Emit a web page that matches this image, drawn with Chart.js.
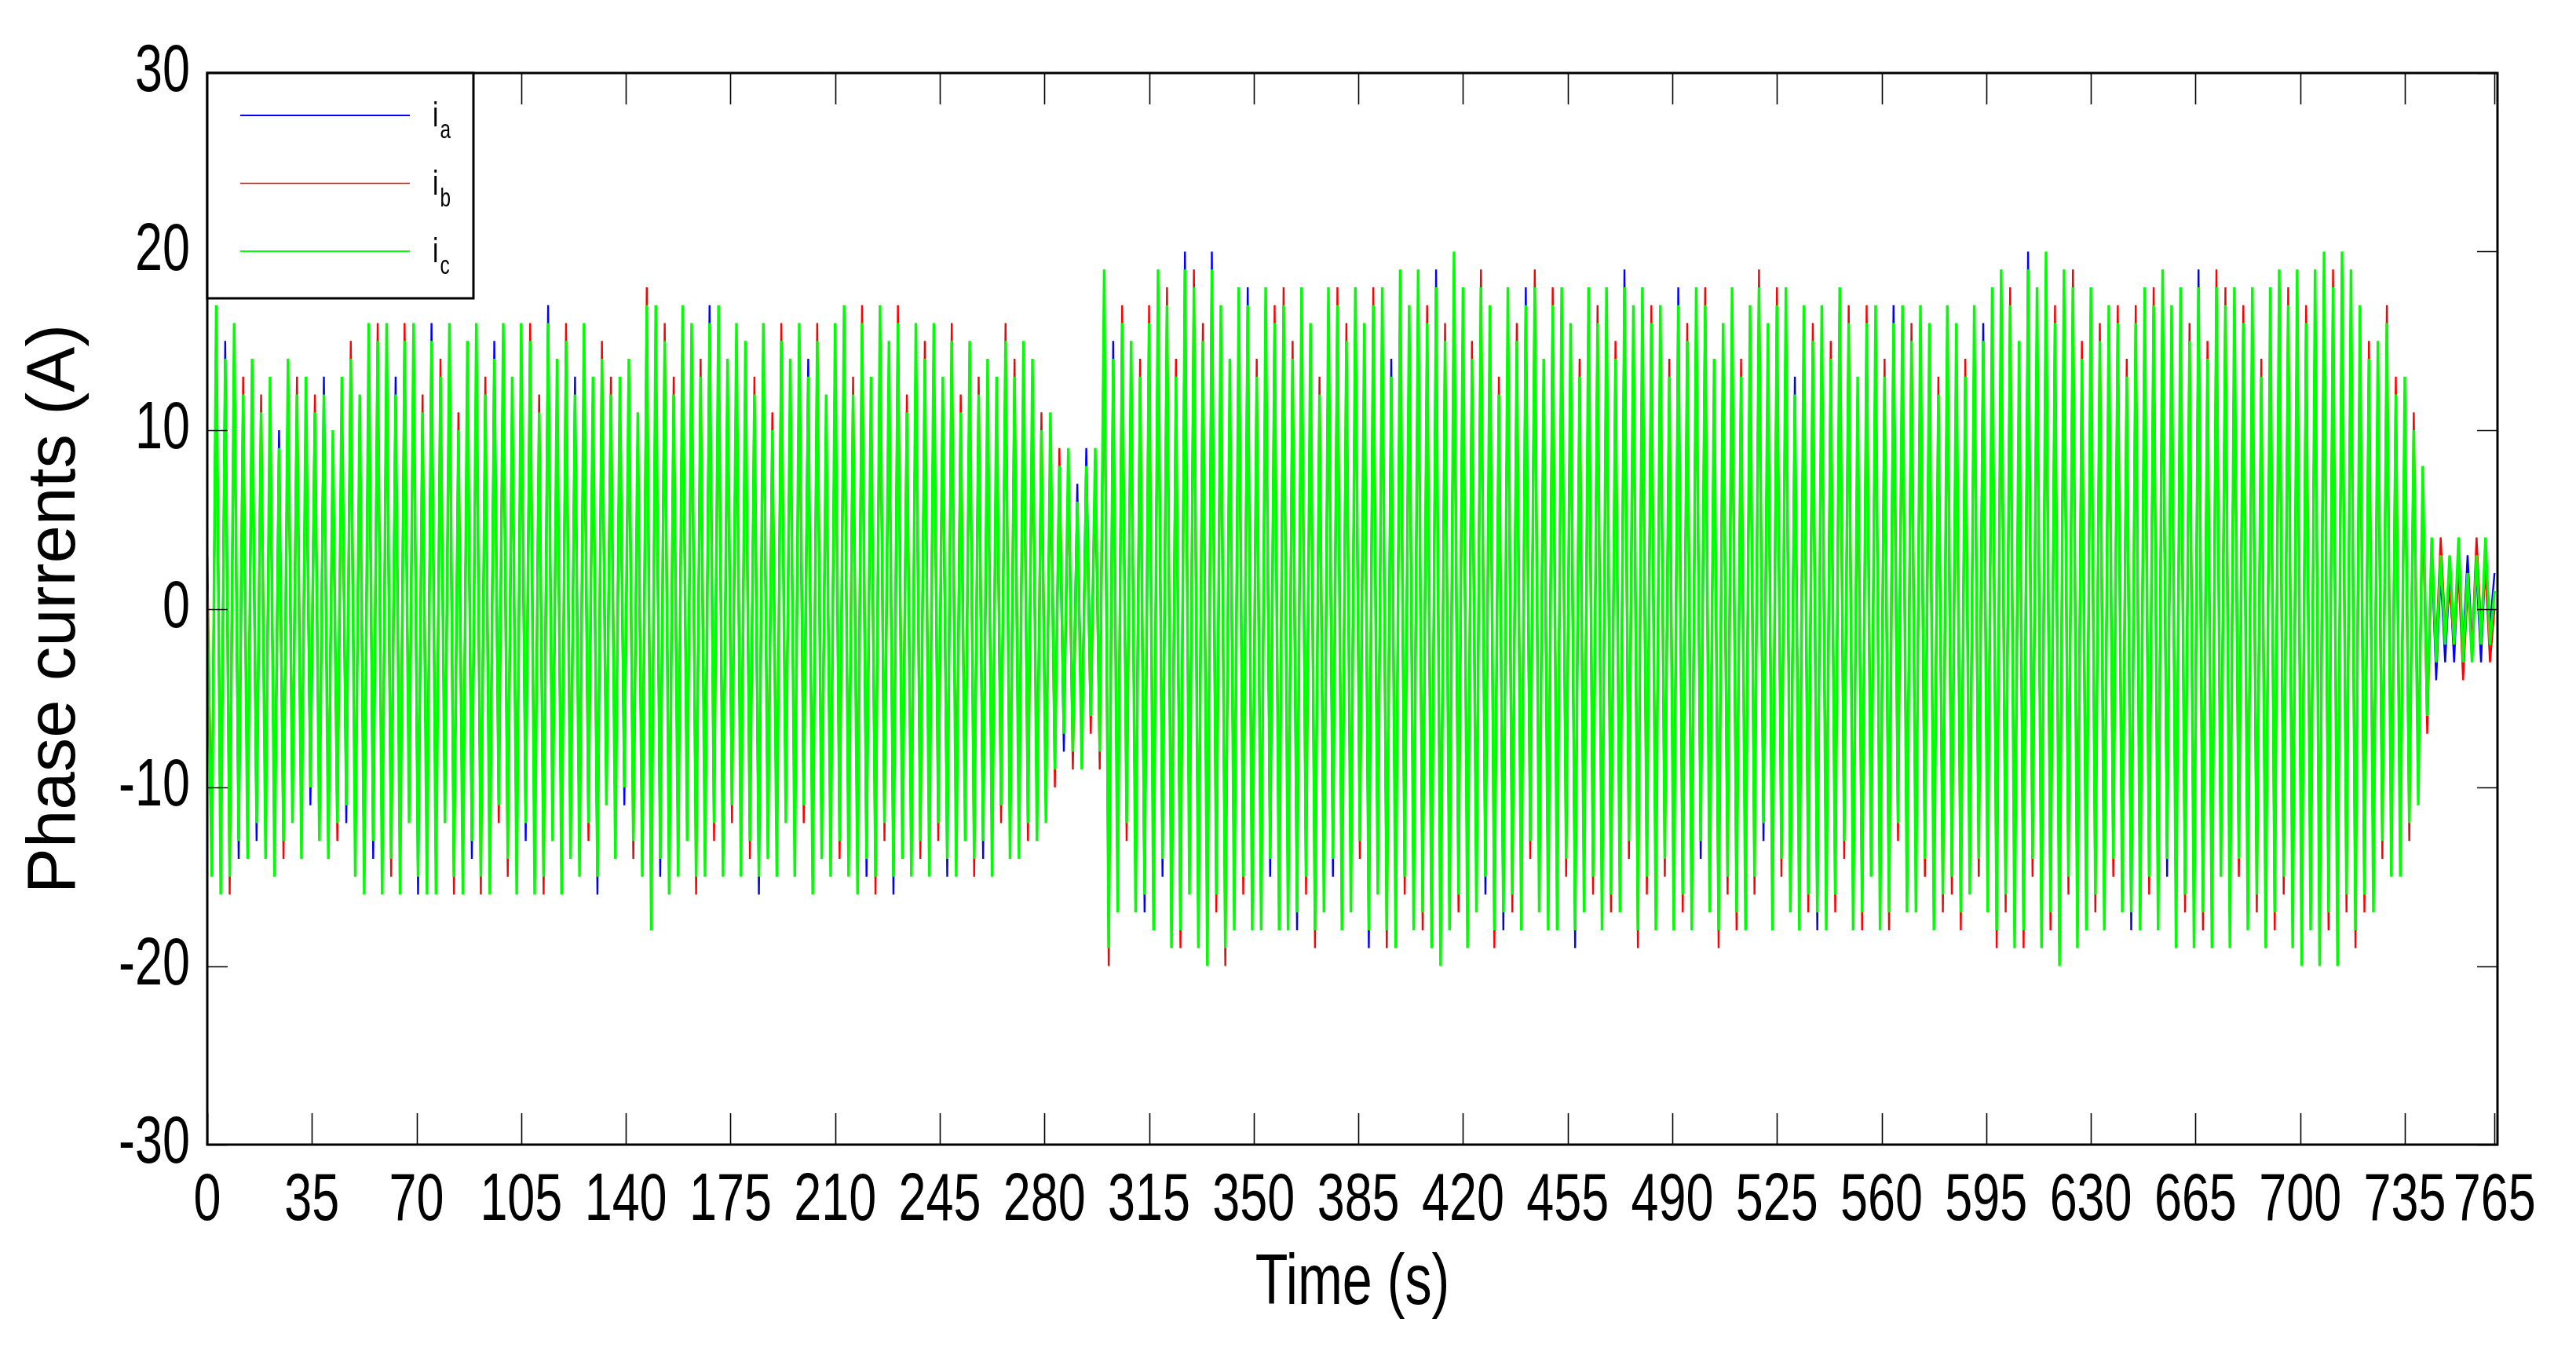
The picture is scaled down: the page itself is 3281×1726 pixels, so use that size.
<!DOCTYPE html>
<html><head><meta charset="utf-8">
<script src="https://cdn.jsdelivr.net/npm/chart.js@4.4.1/dist/chart.umd.min.js"></script>
<style>html,body{margin:0;padding:0;background:#fff;}canvas{display:block;}</style>
</head><body>
<canvas id="c" width="3281" height="1726"></canvas>
<script>
const seriesLabels = ['i_a', 'i_b', 'i_c'];
const seriesColors = ['#0000ff', '#ff0000', '#00ff00'];
const xTicks = [0,35,70,105,140,175,210,245,280,315,350,385,420,455,490,525,560,595,630,665,700,735,765];
const yTicks = [-30,-20,-10,0,10,20,30];
const xTitle = 'Time (s)';
const yTitle = 'Phase currents (A)';
const tStep = 1.5; // sampling interval of the series (s)

// phase a (blue)
const ia = [
-1,-14,16,-15,15,-14,15,-14,11,-13, 12,-13,10,-13,12,-14,10,-12,13,-11, 11,-13,12,-11,10,-12,13,-13,9,-11,
12,-12,13,-14,11,-15,15,-14,14,-15, 15,-13,13,-15,14,-11,15,-16,10,-15, 16,-15,12,-11,15,-14,9,-15,14,-14,
15,-14,11,-15,15,-10,15,-13,12,-15, 15,-13,14,-15,10,-14,17,-12,13,-15, 14,-13,13,-14,15,-11,12,-16,13,-10,
11,-13,12,-11,13,-12,10,-14,16,-17, 16,-15,14,-15,11,-14,16,-12,15,-14, 12,-14,17,-11,16,-14,13,-10,15,-14,
14,-12,11,-16,15,-13,9,-14,14,-11, 13,-14,15,-10,14,-15,14,-13,11,-14, 15,-12,16,-14,11,-15,15,-15,12,-14,
16,-11,14,-16,15,-13,10,-14,15,-12, 13,-14,15,-11,12,-15,14,-14,10,-12, 14,-13,11,-14,13,-14,12,-10,14,-13,
12,-13,14,-11,13,-12,9,-11,10,-8, 7,-8,8,-7,7,-8,9,-5,8,-7, 18,-18,15,-16,15,-11,14,-16,12,-17,
15,-17,18,-15,16,-18,12,-17,20,-15, 17,-18,14,-19,20,-15,16,-18,13,-17, 17,-14,18,-17,12,-17,17,-15,15,-17,
16,-17,13,-18,17,-14,15,-17,11,-16, 17,-15,16,-17,14,-16,17,-12,15,-19, 16,-15,17,-17,14,-18,18,-14,16,-17,
18,-16,15,-18,19,-19,14,-17,19,-15, 17,-18,13,-16,17,-16,16,-17,11,-18, 17,-15,14,-17,18,-12,17,-16,13,-17,
16,-17,17,-13,15,-19,12,-16,17,-14, 15,-17,17,-15,13,-16,19,-12,16,-17, 17,-14,15,-17,16,-13,12,-17,18,-15,
14,-17,17,-14,16,-16,13,-17,15,-14, 17,-16,12,-17,16,-14,17,-13,15,-17, 16,-13,17,-16,13,-17,16,-15,14,-18,
16,-17,13,-15,17,-12,15,-17,12,-16, 15,-14,16,-17,12,-16,17,-11,16,-16, 14,-16,16,-13,15,-17,11,-15,16,-14,
15,-16,12,-15,16,-13,16,-16,17,-17, 18,-15,16,-18,14,-17,20,-13,17,-18, 19,-16,15,-19,18,-14,17,-18,13,-17,
17,-15,14,-17,16,-13,15,-16,12,-18, 15,-17,17,-14,16,-17,18,-15,16,-18, 17,-15,14,-18,19,-16,13,-18,17,-14,
16,-18,17,-13,15,-17,17,-15,12,-18, 17,-16,18,-14,16,-18,18,-19,15,-17, 18,-19,19,-16,17,-19,19,-15,18,-17,
16,-15,13,-16,14,-12,15,-14,11,-14, 12,-11,9,-10,7,-5,3,-4,2,-3, 2,-3,3,-2,3,-2,2,-3,3,-1,
2];

// phase b (red)
const ib = [
3,-13,15,-14,13,-16,14,-12,13,-12, 13,-11,12,-12,11,-13,8,-14,12,-10, 13,-12,11,-9,12,-12,11,-12,9,-13,
11,-10,15,-13,10,-15,14,-12,16,-14, 14,-15,11,-14,16,-11,14,-14,12,-14, 14,-14,14,-11,14,-16,11,-14,13,-12,
14,-16,13,-14,13,-12,14,-15,11,-14, 14,-11,16,-14,12,-16,15,-12,12,-14, 16,-12,11,-14,14,-13,12,-14,15,-10,
13,-12,11,-9,12,-14,10,-13,18,-16, 15,-13,16,-14,13,-14,15,-12,14,-16, 14,-13,15,-13,15,-14,12,-12,14,-13,
13,-14,13,-14,14,-12,11,-13,16,-11, 12,-13,14,-12,12,-15,16,-12,10,-13, 14,-14,15,-13,13,-14,17,-12,11,-16,
15,-13,13,-14,17,-12,12,-13,14,-14, 15,-13,14,-13,11,-13,16,-13,12,-11, 13,-15,13,-12,12,-13,11,-12,16,-12,
14,-12,13,-13,12,-11,11,-10,9,-10, 9,-6,7,-9,5,-7,7,-7,8,-9, 17,-20,13,-15,17,-13,13,-15,14,-15,
17,-16,17,-13,18,-17,14,-19,17,-14, 19,-17,16,-18,17,-17,15,-20,12,-16, 16,-16,15,-16,14,-17,16,-13,17,-16,
18,-16,15,-16,16,-16,14,-19,13,-15, 16,-13,18,-16,16,-15,16,-14,14,-17, 18,-14,16,-19,12,-17,17,-16,15,-16,
17,-18,17,-17,16,-18,16,-16,18,-17, 16,-17,15,-15,19,-14,15,-19,13,-16, 16,-17,16,-16,15,-14,19,-15,12,-16,
18,-16,16,-15,14,-17,14,-15,16,-16, 17,-16,16,-17,15,-15,16,-14,15,-19, 16,-16,17,-16,15,-15,14,-16,15,-17,
16,-16,16,-12,18,-15,12,-19,14,-16, 16,-18,14,-16,15,-16,19,-11,14,-16, 18,-15,16,-15,11,-16,15,-17,16,-15,
15,-16,15,-17,16,-14,17,-16,11,-18, 17,-13,15,-16,14,-18,14,-13,15,-15, 16,-15,15,-15,14,-16,13,-17,15,-16,
14,-18,14,-14,15,-15,14,-15,16,-19, 17,-17,18,-17,13,-19,17,-15,16,-17, 18,-18,17,-18,17,-16,19,-17,15,-16,
16,-17,16,-16,15,-15,17,-15,14,-16, 17,-16,16,-16,18,-16,17,-13,15,-17, 16,-17,16,-17,16,-18,15,-17,19,-14,
18,-17,16,-15,17,-16,16,-17,14,-17, 16,-18,17,-16,18,-17,17,-18,17,-16, 17,-18,18,-18,19,-18,18,-17,17,-19,
15,-17,15,-15,13,-14,17,-13,13,-13, 11,-13,11,-9,6,-7,3,-2,4,-1, 1,-2,2,-4,1,-2,4,-1,2,-3,
0];

// phase c (green)
const ic = [
1,-15,17,-16,14,-15,16,-13,12,-14, 14,-12,11,-14,13,-15,9,-13,14,-12, 12,-14,13,-10,11,-13,12,-14,10,-12,
13,-11,14,-15,12,-16,16,-13,15,-16, 16,-14,12,-16,15,-12,16,-15,11,-16, 15,-16,13,-12,16,-15,10,-16,15,-13,
16,-15,12,-16,14,-11,16,-14,13,-16, 16,-12,15,-16,11,-15,16,-13,14,-16, 15,-14,12,-15,16,-12,13,-15,14,-11,
12,-14,13,-10,14,-13,11,-15,17,-18, 17,-14,15,-16,12,-15,17,-13,16,-15, 13,-15,16,-12,17,-15,14,-11,16,-15,
15,-13,12,-15,16,-14,10,-15,15,-12, 14,-15,16,-11,13,-16,15,-14,12,-15, 16,-13,17,-15,12,-16,16,-14,13,-15,
17,-12,15,-15,16,-14,11,-15,16,-13, 14,-15,16,-12,13,-14,15,-15,11,-13, 15,-14,12,-13,14,-15,13,-11,15,-14,
13,-14,15,-12,14,-13,10,-12,11,-9, 8,-7,9,-8,6,-9,8,-6,9,-8, 19,-19,14,-17,16,-12,15,-17,13,-16,
16,-18,19,-14,17,-19,13,-18,19,-16, 18,-19,15,-20,19,-16,17,-19,14,-18, 18,-15,17,-18,13,-18,18,-14,16,-18,
17,-18,14,-17,18,-15,16,-18,12,-17, 18,-14,17,-18,15,-17,18,-13,16,-18, 17,-16,18,-18,13,-19,19,-15,17,-18,
19,-17,16,-19,18,-20,15,-18,20,-16, 18,-19,14,-17,18,-15,17,-18,12,-17, 18,-16,15,-18,17,-13,18,-17,14,-18,
17,-18,18,-14,16,-18,13,-17,18,-15, 16,-18,18,-16,14,-17,18,-13,17,-18, 18,-15,16,-18,17,-14,13,-18,17,-16,
15,-18,18,-13,17,-17,14,-18,16,-15, 18,-17,13,-18,17,-15,18,-12,16,-18, 17,-14,18,-17,12,-18,17,-16,15,-17,
17,-18,14,-16,18,-13,16,-18,13,-17, 16,-15,17,-18,13,-17,16,-12,17,-17, 15,-17,17,-14,16,-18,12,-16,17,-15,
16,-17,13,-16,17,-14,15,-17,18,-18, 19,-16,17,-19,15,-18,19,-14,18,-19, 20,-17,16,-20,19,-15,18,-19,14,-18,
18,-16,15,-18,17,-14,16,-17,13,-17, 16,-18,18,-15,17,-18,19,-14,17,-19, 18,-16,15,-19,18,-17,14,-19,18,-15,
17,-19,18,-14,16,-18,18,-16,13,-19, 18,-17,19,-15,17,-19,19,-20,16,-18, 19,-20,20,-17,18,-20,20,-16,19,-18,
17,-16,14,-17,15,-13,16,-15,12,-15, 13,-12,10,-11,8,-6,4,-3,3,-2, 3,-2,4,-3,2,-3,3,-2,4,-2,
1];

const FONT = "'Liberation Sans', Arial, Helvetica, sans-serif";
const CONDENSE = 0.74; // horizontal squeeze of tick/x-title lettering (narrow Helvetica look)
const toPts = arr => arr.map((v, i) => ({x: i * tStep, y: v}));

// draw the scale's own label items with narrower lettering
function condensedLabels(scale, sx) {
  scale.drawLabels = function (chartArea) {
    const ctx = this.ctx;
    const items = this.getLabelItems(chartArea);
    for (const item of items) {
      const o = item.options;
      ctx.save();
      ctx.translate(o.translation[0], o.translation[1]);
      ctx.rotate(o.rotation || 0);
      ctx.scale(sx, 1);
      ctx.font = item.font.string;
      ctx.fillStyle = o.color;
      ctx.textAlign = o.textAlign;
      ctx.textBaseline = o.textBaseline;
      ctx.fillText(item.label, 0, item.textOffset);
      ctx.restore();
    }
  };
}
function condensedTitle(scale, sx) {
  if (scale._origDrawTitle) return;
  scale._origDrawTitle = scale.drawTitle;
  scale.drawTitle = function () {
    const ctx = this.ctx;
    const cx = (this.left + this.right) / 2;
    ctx.save();
    ctx.translate(cx, 0); ctx.scale(sx, 1); ctx.translate(-cx, 0);
    this._origDrawTitle();
    ctx.restore();
  };
}

const framePlugin = {
  id: 'matlabFrame',
  afterLayout(chart) {
    condensedLabels(chart.scales.x, CONDENSE);
    condensedLabels(chart.scales.y, CONDENSE);
    condensedTitle(chart.scales.x, 0.75);
  },
  afterDraw(chart) {
    const {ctx, chartArea: a, scales: {x, y}} = chart;
    ctx.save();
    ctx.strokeStyle = '#000';
    ctx.lineWidth = 1.6;
    ctx.beginPath();
    x.ticks.forEach(t => {
      const px = Math.round(x.getPixelForValue(t.value)) + 0.5;
      ctx.moveTo(px, a.bottom); ctx.lineTo(px, a.bottom - 40);
      ctx.moveTo(px, a.top); ctx.lineTo(px, a.top + 40);
    });
    y.ticks.forEach(t => {
      const py = Math.round(y.getPixelForValue(t.value)) + 0.5;
      ctx.moveTo(a.left, py); ctx.lineTo(a.left + 26, py);
      ctx.moveTo(a.right, py); ctx.lineTo(a.right - 26, py);
    });
    ctx.stroke();
    ctx.lineWidth = 3;
    ctx.strokeRect(a.left, a.top, a.right - a.left, a.bottom - a.top);

    // legend box (MATLAB style, top-left inside axes)
    const lx = a.left, ly = a.top, lw = 339, lh = 287;
    ctx.fillStyle = '#fff';
    ctx.fillRect(lx, ly, lw, lh);
    ctx.strokeRect(lx, ly, lw, lh);
    chart.data.datasets.forEach((ds, i) => {
      const cy = ly + 54 + i * 86.5;
      ctx.strokeStyle = ds.borderColor;
      ctx.lineWidth = i === 1 ? 1.5 : 2.2;
      ctx.beginPath();
      ctx.moveTo(lx + 42, cy); ctx.lineTo(lx + 258, cy);
      ctx.stroke();
      const parts = ds.label.split('_');
      ctx.fillStyle = '#000';
      ctx.textBaseline = 'alphabetic';
      ctx.textAlign = 'left';
      ctx.save();
      ctx.translate(lx + 287, cy);
      ctx.scale(CONDENSE, 1);
      ctx.font = '45px ' + FONT;
      ctx.fillText(parts[0], 0, 14);
      const w = ctx.measureText(parts[0]).width;
      ctx.font = '33px ' + FONT;
      ctx.fillText(parts[1], w + 3, 29);
      ctx.restore();
    });
    ctx.restore();
  }
};

new Chart(document.getElementById('c'), {
  type: 'line',
  data: {
    datasets: [
      {label: seriesLabels[0], data: toPts(ia), borderColor: seriesColors[0], borderWidth: 2.4, order: 2},
      {label: seriesLabels[1], data: toPts(ib), borderColor: seriesColors[1], borderWidth: 2.4, order: 1},
      {label: seriesLabels[2], data: toPts(ic), borderColor: seriesColors[2], borderWidth: 3.4, order: 0}
    ]
  },
  options: {
    responsive: false,
    animation: false,
    devicePixelRatio: 1,
    parsing: false,
    normalized: true,
    elements: {
      point: {radius: 0, hoverRadius: 0},
      line: {tension: 0, fill: false, borderJoinStyle: 'bevel'}
    },
    layout: {padding: {top: 93, right: 100, bottom: 0, left: 0}},
    plugins: {legend: {display: false}, tooltip: {enabled: false}},
    events: [],
    scales: {
      x: {
        type: 'linear', min: 0, max: 766,
        afterBuildTicks: s => { s.ticks = xTicks.map(v => ({value: v})); },
        afterFit: s => { s.height = 268; s.paddingLeft = 0; s.paddingRight = 0; },
        grid: {display: false, drawTicks: false},
        border: {display: false},
        ticks: {
          autoSkip: false, maxRotation: 0, minRotation: 0, padding: 22, color: '#000',
          font: {family: FONT, size: 85, lineHeight: 1.2},
          callback: v => String(v)
        },
        title: {display: true, text: xTitle, color: '#000',
          font: {family: FONT, size: 91, lineHeight: 1.2}, padding: {top: 0, bottom: 35}}
      },
      y: {
        type: 'linear', min: -30, max: 30,
        afterBuildTicks: s => { s.ticks = yTicks.map(v => ({value: v})); },
        afterFit: s => { s.width = 264; s.paddingTop = 0; s.paddingBottom = 0; },
        grid: {display: false, drawTicks: false},
        border: {display: false},
        ticks: {
          padding: 22, color: '#000',
          font: {family: FONT, size: 85, lineHeight: 1.2},
          callback: v => String(v)
        },
        title: {display: true, text: yTitle, color: '#000',
          font: {family: FONT, size: 87, lineHeight: 1.2}, padding: {top: 19, bottom: 0}}
      }
    }
  },
  plugins: [framePlugin]
});
</script>
</body></html>
